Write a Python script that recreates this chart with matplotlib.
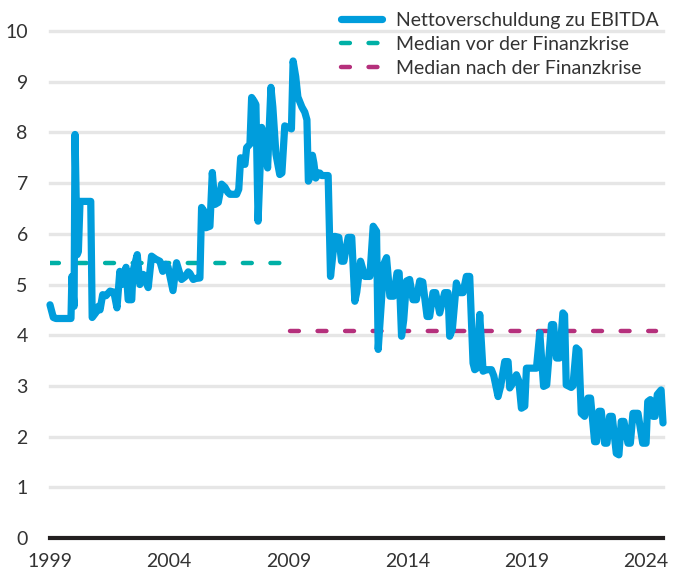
import matplotlib.pyplot as plt

# Nettoverschuldung zu EBITDA
years = [1999.00, 1999.14, 1999.25, 1999.88, 1999.92, 2000.01, 2000.05, 2000.14, 2000.19, 2000.26,
         2000.71, 2000.77, 2000.93, 2001.03, 2001.10, 2001.21, 2001.35, 2001.52, 2001.68, 2001.81,
         2001.93, 2002.01, 2002.19, 2002.28, 2002.43, 2002.48, 2002.66, 2002.77, 2002.91, 2003.12,
         2003.26, 2003.44, 2003.61, 2003.73, 2003.86, 2003.95, 2004.16, 2004.31, 2004.52, 2004.66,
         2004.80, 2004.87, 2005.01, 2005.12, 2005.29, 2005.36, 2005.46, 2005.54, 2005.71, 2005.81,
         2005.92, 2006.06, 2006.20, 2006.34, 2006.46, 2006.55, 2006.83, 2006.92, 2007.00, 2007.09,
         2007.18, 2007.25, 2007.39, 2007.46, 2007.56, 2007.64, 2007.73, 2007.88, 2007.97, 2008.13,
         2008.27, 2008.35, 2008.48, 2008.64, 2008.73, 2008.85, 2009.13, 2009.20, 2009.31, 2009.40,
         2009.57, 2009.69, 2009.78, 2009.84, 2009.94, 2010.01, 2010.07, 2010.15, 2010.24, 2010.32,
         2010.40, 2010.67, 2010.77, 2010.95, 2011.12, 2011.23, 2011.33, 2011.51, 2011.66, 2011.79,
         2011.87, 2012.03, 2012.21, 2012.42, 2012.56, 2012.70, 2012.77, 2012.91, 2013.00, 2013.12,
         2013.26, 2013.42, 2013.56, 2013.65, 2013.75, 2013.84, 2013.96, 2014.09, 2014.23, 2014.37,
         2014.51, 2014.64, 2014.82, 2014.93, 2015.07, 2015.18, 2015.35, 2015.56, 2015.70, 2015.77,
         2015.88, 2016.05, 2016.19, 2016.33, 2016.47, 2016.61, 2016.75, 2016.82, 2016.91, 2017.03,
         2017.17, 2017.31, 2017.52, 2017.62, 2017.80, 2017.91, 2018.08, 2018.22, 2018.29, 2018.41,
         2018.57, 2018.67, 2018.78, 2018.92, 2018.99, 2019.13, 2019.41, 2019.55, 2019.71, 2019.84,
         2020.04, 2020.13, 2020.25, 2020.38, 2020.52, 2020.59, 2020.66, 2020.87, 2020.94, 2021.08,
         2021.19, 2021.29, 2021.43, 2021.57, 2021.68, 2021.85, 2021.93, 2022.03, 2022.13, 2022.27,
         2022.37, 2022.48, 2022.59, 2022.76, 2022.87, 2022.97, 2023.08, 2023.25, 2023.35, 2023.46,
         2023.67, 2023.87, 2024.01, 2024.08, 2024.19, 2024.30, 2024.39, 2024.48, 2024.64, 2024.72]
ratio = [4.60, 4.35, 4.33, 4.33, 5.16, 4.57, 7.96, 5.59, 5.65, 6.64,
         6.64, 4.35, 4.45, 4.57, 4.50, 4.80, 4.78, 4.87, 4.85, 4.54,
         5.26, 5.00, 5.34, 4.70, 4.70, 5.26, 5.59, 5.00, 5.20, 4.94,
         5.56, 5.50, 5.46, 5.26, 5.40, 5.35, 4.88, 5.43, 5.10, 5.15,
         5.25, 5.22, 5.10, 5.12, 5.13, 6.52, 6.45, 6.12, 6.15, 7.21,
         6.58, 6.62, 6.98, 6.92, 6.82, 6.78, 6.78, 6.88, 7.50, 7.45,
         7.37, 7.70, 7.77, 8.69, 8.62, 8.55, 6.25, 8.10, 7.90, 7.30,
         8.89, 8.50, 7.57, 7.17, 7.20, 8.13, 8.07, 9.41, 9.10, 8.70,
         8.50, 8.40, 8.25, 7.04, 7.15, 7.55, 7.40, 7.10, 7.20, 7.20,
         7.15, 7.15, 5.16, 5.95, 5.93, 5.46, 5.46, 5.93, 5.93, 4.67,
         4.85, 5.46, 5.16, 5.16, 6.15, 6.05, 3.72, 4.70, 5.40, 5.53,
         4.77, 4.77, 5.23, 5.23, 3.98, 4.30, 5.07, 5.10, 4.70, 4.70,
         5.07, 5.05, 4.37, 4.37, 4.84, 4.84, 4.44, 4.84, 4.84, 3.98,
         4.11, 5.03, 4.84, 4.84, 5.16, 5.16, 3.45, 3.32, 3.35, 4.41,
         3.29, 3.32, 3.32, 3.20, 2.79, 3.00, 3.48, 3.48, 2.96, 3.05,
         3.22, 3.10, 2.56, 2.60, 3.35, 3.35, 3.35, 4.05, 2.99, 3.02,
         4.21, 4.21, 3.55, 3.55, 4.44, 4.40, 3.02, 2.97, 3.00, 3.75,
         3.70, 2.46, 2.40, 2.76, 2.76, 1.90, 1.90, 2.50, 2.50, 1.87,
         1.87, 2.40, 2.40, 1.67, 1.64, 2.30, 2.30, 1.87, 1.87, 2.46,
         2.46, 1.87, 1.87, 2.69, 2.73, 2.40, 2.40, 2.83, 2.92, 2.27]

median_pre = 5.42
median_pre_span = [1999.0, 2008.64]
median_post = 4.08
median_post_span = [2009.06, 2024.41]

xticks = [1999, 2004, 2009, 2014, 2019, 2024]
yticks = list(range(0, 11))

plt.rcParams['font.family'] = ['Lato', 'DejaVu Sans']
text_color = '#333333'

fig = plt.figure(figsize=(6.81, 5.69), dpi=100)
W, H = 681, 569
ax = fig.add_axes([50 / W, 1 - 538 / H, 613 / W, (538 - 26) / H])

for y in yticks[1:]:
    ax.axhline(y, color='#e6e6e6', lw=2.4, zorder=1, clip_on=False)
ax.axhline(0, color='#231f20', lw=3, zorder=4, clip_on=False)

ax.plot(median_pre_span, [median_pre] * 2, color='#00b0a6', lw=3.2,
        dashes=(2.0, 4.2), dash_capstyle='round', zorder=2,
        label='Median vor der Finanzkrise')
ax.plot(median_post_span, [median_post] * 2, color='#b5307c', lw=3.2,
        dashes=(2.0, 4.2), dash_capstyle='round', zorder=2,
        label='Median nach der Finanzkrise')
ax.plot(years, ratio, color='#009ddc', lw=5.2, solid_joinstyle='round',
        solid_capstyle='round', zorder=3, clip_on=False,
        label='Nettoverschuldung zu EBITDA')

ax.set_xlim(1999, 2024.72)
ax.set_ylim(0, 10.1)
ax.set_xticks(xticks)
ax.set_yticks(yticks)
ax.tick_params(length=0, labelsize=14, colors=text_color)
ax.tick_params(axis='y', pad=16)
ax.tick_params(axis='x', pad=11)
for s in ax.spines.values():
    s.set_visible(False)

handles, labels = ax.get_legend_handles_labels()
order = [2, 0, 1]
ax.legend([handles[i] for i in order], [labels[i] for i in order],
          loc='upper right', bbox_to_anchor=(659 / W, 1 - 12 / H),
          bbox_transform=fig.transFigure, frameon=False, fontsize=14,
          labelcolor=text_color, handlelength=2.1, handletextpad=0.72,
          labelspacing=0.36, borderpad=0, borderaxespad=0)

fig.savefig('out.png', dpi=100)
